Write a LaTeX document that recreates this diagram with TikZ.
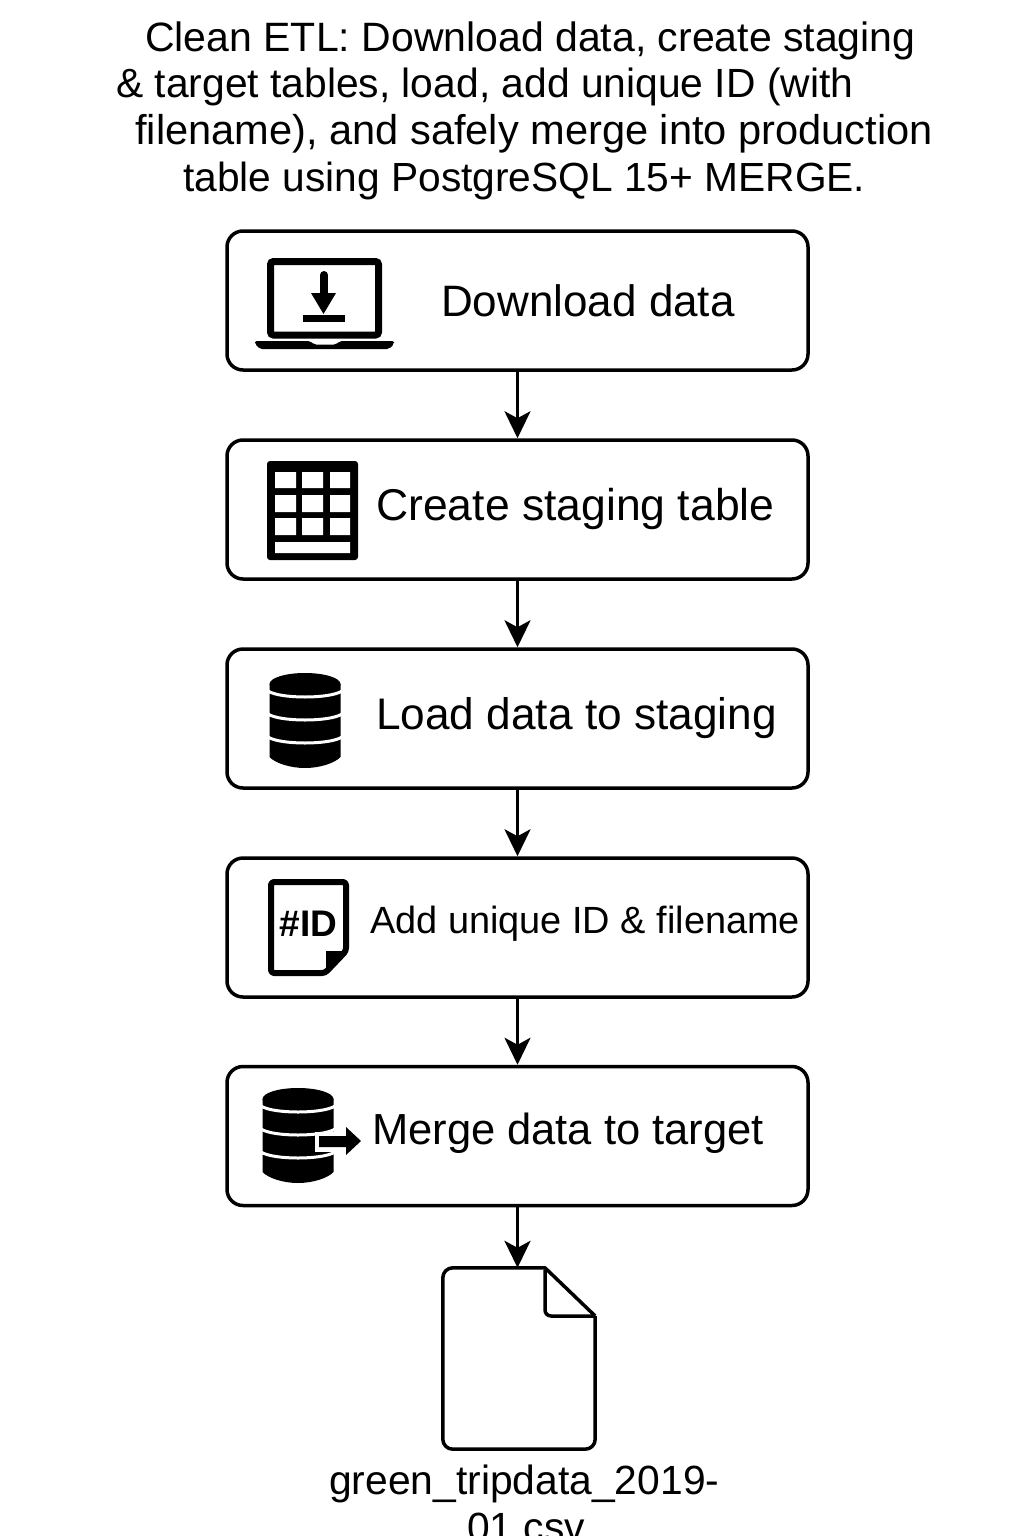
\documentclass[tikz,border=0pt]{standalone}
\usepackage{fontspec}
\setmainfont{Liberation Sans}
\usetikzlibrary{arrows.meta}
\newcommand{\fs}[1]{\fontsize{#1}{#1}\selectfont}
\tikzset{
  x=1pt,y=-1pt,
  stepbox/.style={draw=black,line width=3.5pt,rounded corners=16pt,fill=white,minimum width=581pt,minimum height=139pt,inner sep=0pt},
  flow/.style={draw=black,line width=3pt,-{Stealth[length=27pt,width=26pt,inset=7pt]}},
  txt/.style={anchor=base west,inner sep=0pt,text=black},
  iconline/.style={draw=black,line width=7pt,rounded corners=3pt},
  dbicon/.pic={
    \fill[black] (0,0) ellipse[x radius=35.5,y radius=11];
    \fill[black] (-35.5,0) -- (35.5,0)
      -- (35.5,73) .. controls (30,79) and (15,84) .. (0,84) .. controls (-15,84) and (-30,79) .. (-35.5,73) -- cycle;
    \draw[white,line width=3pt]
      (-37,7) .. controls (-25,15) and (25,15) .. (37,7)
      (-37,30) .. controls (-25,38) and (25,38) .. (37,30)
      (-37,53) .. controls (-25,61) and (25,61) .. (37,53);
  }
}
\begin{document}
\begin{tikzpicture}
\useasboundingbox (0,0) rectangle (1024,1536);
\fill[white] (0,0) rectangle (1024,1536);
% title
\node[txt] (t1) at (145,52) {\fs{41}Clean ETL: Download data, create staging};
\node[txt] (t2) at (116,98) {\fs{40.8}\& target tables, load, add unique ID (with};
\node[txt] (t3) at (135,145) {\fs{41.6}filename), and safely merge into production};
\node[txt] (t4) at (183,191) {\fs{40.7}table using PostgreSQL 15+ MERGE.};
% boxes
\node[stepbox] (b1) at (517.5,300.5) {};
\node[stepbox] (b2) at (517.5,509.5) {};
\node[stepbox] (b3) at (517.5,718.5) {};
\node[stepbox] (b4) at (517.5,927.5) {};
\node[stepbox] (b5) at (517.5,1136) {};
\node[minimum width=152pt,minimum height=181pt,inner sep=0pt] (f) at (519,1358.5) {};
% labels
\node[txt] (l1) at (441,316) {\fs{44}Download data};
\node[txt] (l2) at (376,520) {\fs{44.5}Create staging table};
\node[txt] (l3) at (376,729) {\fs{44.2}Load data to staging};
\node[txt] (l4) at (370,933) {\fs{37.9}Add unique ID \& filename};
\node[txt] (l5) at (372,1144) {\fs{43.5}Merge data to target};
\node[txt] (n1) at (329,1494) {\fs{40.8}green\_tripdata\_2019-};
\node[txt] (n2) at (467,1541) {\fs{40.8}01.csv};
% connectors
\draw[flow] (b1.south) -- (b2.north);
\draw[flow] (b2.south) -- (b3.north);
\draw[flow] (b3.south) -- (b4.north);
\draw[flow] (b4.south) -- (b5.north);
\draw[flow] (b5.south) -- (b5.south |- f.north);
% laptop icon
\draw[iconline] (270.5,261.5) rectangle (378.5,335);
\fill[black,rounded corners=2pt] (255,341) -- (310,341) -- (314,344.5) -- (336,344.5) -- (340,341) -- (394,341) -- (394,344) -- (389,349) -- (260,349) -- (255,344) -- cycle;
\draw[black,line width=8pt,line cap=round] (324,275) -- (324,296);
\fill[black] (311,293) -- (336,293) -- (323.5,314) -- cycle;
\fill[black] (303,315) rectangle (345,322);
% table icon
\fill[black,rounded corners=3pt] (267,461) rectangle (358,560);
\fill[white] (275,472) rectangle (296,488) (302,472) rectangle (323,488) (330,472) rectangle (350,488)
  (275,495) rectangle (296,512) (302,495) rectangle (323,512) (330,495) rectangle (350,512)
  (275,518) rectangle (296,535) (302,518) rectangle (323,535) (330,518) rectangle (350,535)
  (275,542) rectangle (350,553);
% database icons
\pic at (305,684) {dbicon};
\pic at (298,1099) {dbicon};
\fill[white] (315,1132) rectangle (334,1152);
\fill[black] (319,1136) -- (346,1136) -- (346,1127) -- (361,1141) -- (346,1155) -- (346,1147) -- (319,1147) -- cycle;
% id document icon
\draw[black,line width=6pt,line join=round,rounded corners=3pt] (271,882) -- (346,882) -- (346,951) -- (325,973) -- (271,973) -- cycle;
\fill[black] (326,951) -- (348,951) -- (326,973) -- cycle;
\node[inner sep=0pt,anchor=base,text=black] (idt) at (308.5,936) {\fs{37}\bfseries \#ID};
% file icon
\draw[black,line width=3.5pt,line join=round] (f.north east |- 0,1316) [rounded corners=10pt] -- (f.south east) -- (f.south west) -- (f.north west) [sharp corners] -- (f.north west -| 545,0) -- (f.north east |- 0,1316);
\draw[black,line width=3.5pt,rounded corners=6pt] (545,1270) -- (545,1316) -- (594,1316);
\end{tikzpicture}
\end{document}
